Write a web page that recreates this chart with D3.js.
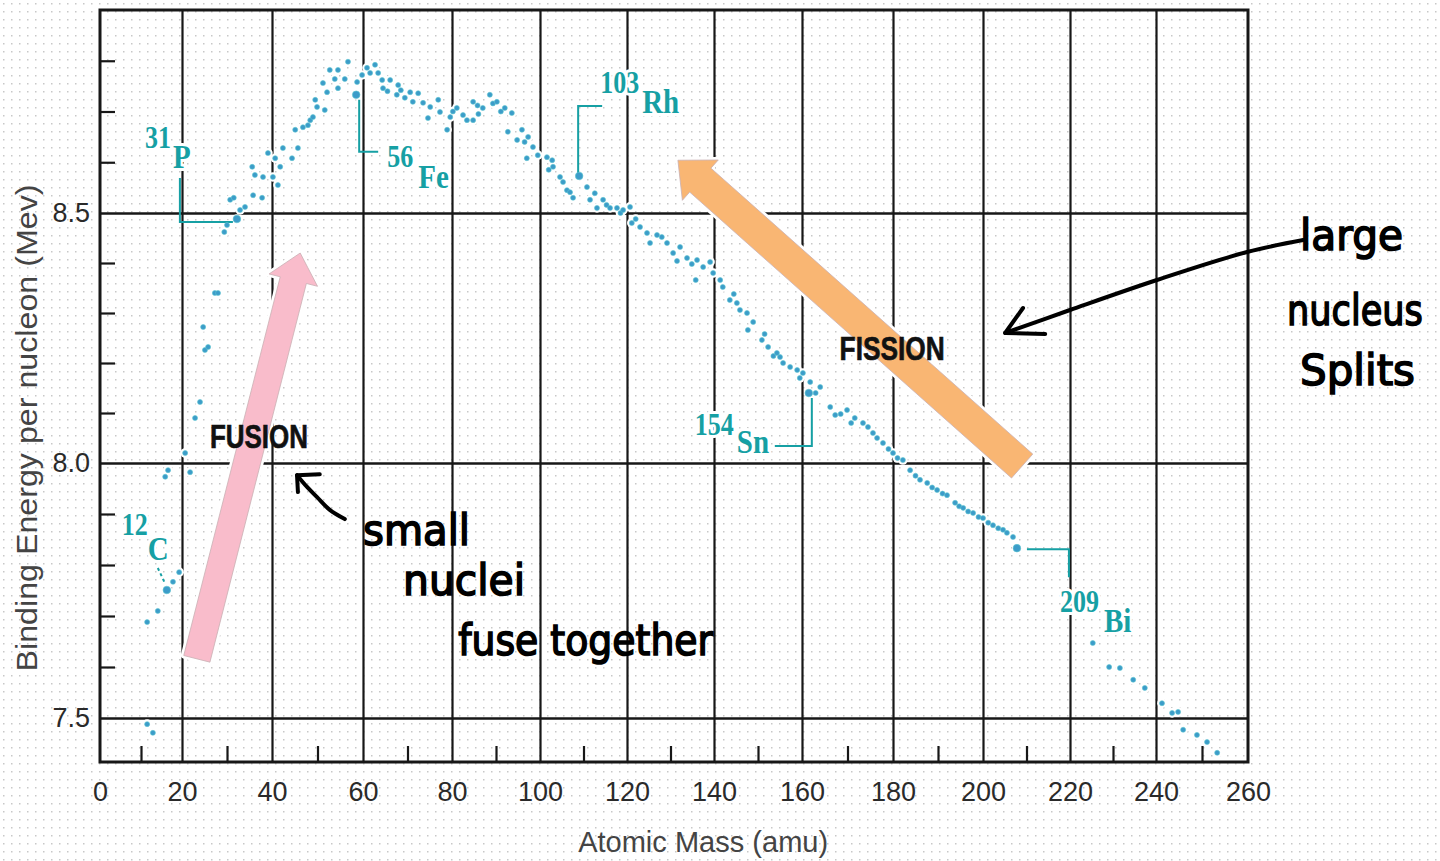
<!DOCTYPE html>
<html><head><meta charset="utf-8">
<script src="https://cdn.jsdelivr.net/npm/d3@7"></script>
<style>html,body{margin:0;padding:0;background:#fff;overflow:hidden}svg{display:block}</style>
</head><body>
<svg id="chart" width="1440" height="861"></svg>
<script>
// ---------------- DATA ----------------
const massNumber = [
 11.5,12.9,11.5,14.1,16.3,17.8,19.3,15.9,16.6,21.8,20.7,22.9,24.0,24.7,25.1,25.8,27.3,28.0,29.4,30.0,
 32.2,32.9,34.0,30.7,31.5,35.8,37.8,35.6,36.2,38.0,40.2,41.3,39.1,40.7,41.8,42.4,44.4,45.7,45.1,46.8,
 47.9,48.4,49.0,49.5,49.9,51.6,51.2,52.1,52.7,54.5,53.8,56.0,54.5,56.7,58.7,58.5,59.8,60.9,62.7,61.6,
 63.4,64.3,66.1,64.5,65.5,67.9,67.6,68.5,69.4,70.6,72.4,71.2,73.5,75.1,74.6,76.9,77.3,79.6,78.9,80.2,
 81.1,82.5,83.4,84.8,84.8,85.8,86.0,87.0,88.6,89.3,90.2,91.1,92.0,93.6,92.7,94.8,95.9,96.5,97.3,97.0,
 98.4,99.5,101.6,102.0,102.8,103.0,104.6,105.3,106.2,106.9,107.6,109.0,110.8,111.5,112.6,114.5,113.1,115.3,116.1,117.7,
 118.5,119.1,120.7,121.1,122.0,123.0,124.6,125.3,126.9,128.0,129.2,130.6,131.5,132.2,133.8,134.9,135.8,136.1,137.5,139.1,
 139.8,141.4,142.0,143.6,144.5,145.2,145.9,147.5,147.7,148.9,150.9,151.5,152.3,153.5,154.3,155.0,155.7,157.3,158.9,159.5,
 160.2,161.8,161.5,163.0,164.0,166.2,167.3,168.5,169.9,170.8,171.6,173.4,174.5,175.6,176.5,177.8,179.0,180.0,181.0,182.2,
 183.8,185.0,186.0,187.6,188.7,189.8,191.0,192.0,193.8,194.7,195.6,196.7,197.8,199.0,200.0,201.2,202.3,203.5,204.6,205.5,
 206.9,207.8,225.3,229.1,231.6,234.7,237.4,241.3,243.5,244.8,245.9,248.9,251.1,253.3
];
const bindingEnergy = [
 7.488,7.471,7.688,7.710,7.751,7.767,7.786,7.973,7.986,7.982,8.020,8.090,8.122,8.272,8.226,8.232,8.340,8.340,8.462,8.476,
 8.488,8.506,8.512,8.526,8.530,8.535,8.530,8.591,8.575,8.571,8.571,8.555,8.618,8.608,8.591,8.628,8.608,8.628,8.664,8.669,
 8.673,8.683,8.689,8.723,8.709,8.703,8.756,8.738,8.782,8.782,8.764,8.764,8.746,8.798,8.758,8.733,8.772,8.786,8.792,8.776,
 8.776,8.762,8.762,8.746,8.740,8.752,8.733,8.742,8.727,8.738,8.736,8.719,8.717,8.709,8.687,8.723,8.699,8.689,8.664,8.700,
 8.707,8.693,8.683,8.719,8.683,8.712,8.695,8.707,8.733,8.716,8.719,8.700,8.707,8.697,8.660,8.644,8.664,8.640,8.650,8.608,
 8.630,8.614,8.610,8.585,8.604,8.591,8.571,8.561,8.545,8.541,8.530,8.573,8.551,8.526,8.539,8.526,8.510,8.516,8.510,8.510,
 8.500,8.506,8.512,8.480,8.488,8.472,8.460,8.440,8.456,8.452,8.440,8.420,8.404,8.432,8.410,8.398,8.366,8.406,8.392,8.402,
 8.380,8.366,8.352,8.326,8.338,8.320,8.306,8.300,8.266,8.282,8.246,8.258,8.232,8.214,8.220,8.212,8.200,8.192,8.186,8.170,
 8.180,8.162,8.140,8.140,8.152,8.112,8.096,8.098,8.106,8.080,8.090,8.080,8.072,8.060,8.050,8.040,8.028,8.020,8.010,8.006,
 7.986,7.975,7.967,7.961,7.952,7.947,7.940,7.937,7.922,7.915,7.912,7.905,7.902,7.894,7.892,7.883,7.878,7.872,7.869,7.863,
 7.855,7.833,7.647,7.600,7.598,7.575,7.559,7.529,7.510,7.512,7.477,7.467,7.453,7.432
];
const isotopeMassLabel = ["12","31","56","103","154","209"];
const isotopeSymbol    = ["C","P","Fe","Rh","Sn","Bi"];
const isotopeA         = [16.3, 32.2, 58.5, 109.0, 161.5, 207.8];
const isotopeBE        = [7.751, 8.488, 8.733, 8.573, 8.140, 7.833];

const xTickValues  = [0,20,40,60,80,100,120,140,160,180,200,220,240,260];
const xMinorTicks  = [10,30,50,70,90,110,130,150,170,190,210,230,250];
const yTickValues  = [7.5, 8.0, 8.5];
const yMinorTicks  = [7.6,7.7,7.8,7.9,8.1,8.2,8.3,8.4,8.6,8.7,8.8];
const xTitle = "Atomic Mass (amu)";
const yTitle = "Binding Energy per nucleon (Mev)";
const fusionLabel = "FUSION", fissionLabel = "FISSION";
const noteWords = ["small","nuclei","fuse together","large","nucleus","Splits"];

// ---------------- LAYOUT ----------------
const W = 1440, H = 861;
const svg = d3.select("#chart");
const defs = svg.append("defs");
const pat = defs.append("pattern").attr("id","dots").attr("patternUnits","userSpaceOnUse")
  .attr("width",8).attr("height",8);
pat.append("rect").attr("x",3).attr("y",3).attr("width",1.5).attr("height",1.5).attr("fill","#c8c8c8");
svg.append("rect").attr("width",W).attr("height",H).attr("fill","#fff");
svg.append("rect").attr("width",W).attr("height",H).attr("fill","url(#dots)");

const xMin = 0, xMax = 260, yMin = 7.414, yMax = 8.9;
// piecewise scale matching the (slightly uneven) grid of the scanned original
const x = d3.scaleLinear().domain(xTickValues)
  .range([100,182,272,363,452,540,627,714,802,893,983,1070,1156,1248]);
const y = d3.scaleLinear().domain([yMin,7.5,8.0,8.5,yMax]).range([762,718,463,213,10]);

const pT = y(yMax), pB = y(yMin), pL = x(xMin), pR = x(xMax);
const ink = "#171717";
const sans = "'Liberation Sans',Arial,sans-serif";

// vertical grid
const gv = svg.append("g").attr("transform",`translate(0,${pT})`)
  .call(d3.axisBottom(x).tickValues(xTickValues.filter(v=>v>xMin&&v<xMax)).tickSize(pB-pT).tickFormat(""));
gv.select(".domain").remove();
gv.selectAll("line").attr("stroke",ink).attr("stroke-width",2.2);
// horizontal grid
const gh = svg.append("g").attr("transform",`translate(${pL},0)`)
  .call(d3.axisRight(y).tickValues(yTickValues).tickSize(pR-pL).tickFormat(""));
gh.select(".domain").remove();
gh.selectAll("line").attr("stroke",ink).attr("stroke-width",2.4);
// minor ticks
const my = svg.append("g").attr("transform",`translate(${pL},0)`)
  .call(d3.axisRight(y).tickValues(yMinorTicks).tickSize(15).tickFormat(""));
my.select(".domain").remove();
my.selectAll("line").attr("stroke",ink).attr("stroke-width",2.2);
const mx = svg.append("g").attr("transform",`translate(0,${pB})`)
  .call(d3.axisTop(x).tickValues(xMinorTicks).tickSize(16).tickFormat(""));
mx.select(".domain").remove();
mx.selectAll("line").attr("stroke",ink).attr("stroke-width",2.2);

// tick labels
const ly = svg.append("g").attr("transform",`translate(${pL},0)`)
  .call(d3.axisLeft(y).tickValues(yTickValues).tickSize(0).tickPadding(10).tickFormat(d3.format(".1f")));
ly.select(".domain").remove();
ly.selectAll("text").attr("font-family",sans).attr("font-size",27).attr("fill","#2a2a2a");
const lx = svg.append("g").attr("transform",`translate(0,${pB})`)
  .call(d3.axisBottom(x).tickValues(xTickValues).tickSize(0).tickPadding(20).tickFormat(d3.format("d")));
lx.select(".domain").remove();
lx.selectAll("text").attr("font-family",sans).attr("font-size",27).attr("fill","#2a2a2a");

// axis titles
svg.append("text").attr("x",x(137.5)).attr("y",852).attr("text-anchor","middle")
  .attr("font-family",sans).attr("font-size",29).attr("fill","#444")
  .attr("textLength",250).attr("lengthAdjust","spacingAndGlyphs").text(xTitle);
svg.append("text").attr("transform",`translate(37,${y(8.07)}) rotate(-90)`).attr("text-anchor","middle")
  .attr("font-family",sans).attr("font-size",29).attr("fill","#444")
  .attr("textLength",487).attr("lengthAdjust","spacingAndGlyphs").text(yTitle);

// frame
svg.append("rect").attr("x",pL).attr("y",pT).attr("width",pR-pL).attr("height",pB-pT)
  .attr("fill","none").attr("stroke",ink).attr("stroke-width",3);

// ---------------- BLOCK ARROWS ----------------
function blockArrow(p1,p2,sw,hw,hl){
  const dx=p2[0]-p1[0], dy=p2[1]-p1[1], L=Math.hypot(dx,dy);
  const ux=dx/L, uy=dy/L, nx=-uy, ny=ux;
  const bx=p2[0]-ux*hl, by=p2[1]-uy*hl;
  const pts=[[p1[0]+nx*sw/2,p1[1]+ny*sw/2],[bx+nx*sw/2,by+ny*sw/2],[bx+nx*hw/2,by+ny*hw/2],p2,
             [bx-nx*hw/2,by-ny*hw/2],[bx-nx*sw/2,by-ny*sw/2],[p1[0]-nx*sw/2,p1[1]-ny*sw/2]];
  return "M"+pts.map(p=>p.join(",")).join("L")+"Z";
}
const arrows = [
  {from:[23.3,7.616], to:[46.2,8.42], sw:27, hw:50, hl:28, fill:"#f9bccb"},
  {from:[209.0,7.994], to:[131.7,8.604], sw:32, hw:54, hl:30, fill:"#f9b673"}
];
arrows.forEach(a=>{
  const d = blockArrow([x(a.from[0]),y(a.from[1])],[x(a.to[0]),y(a.to[1])],a.sw,a.hw,a.hl);
  svg.append("path").attr("d",d).attr("fill","#fff").attr("stroke","#fff").attr("stroke-width",6).attr("stroke-linejoin","round");
  svg.append("path").attr("d",d).attr("fill",a.fill).attr("stroke","#c9b0b4").attr("stroke-width",0.8);
});
[[fusionLabel,37.1,8.03,98],[fissionLabel,179.8,8.206,105]].forEach(([t,a,be,len])=>{
  svg.append("text").attr("transform",`translate(${x(a)},${y(be)}) scale(1,1.1)`).attr("text-anchor","middle")
    .attr("font-family",sans).attr("font-weight","bold").attr("font-size",30)
    .attr("fill","#111").attr("stroke","#111").attr("stroke-width",0.6)
    .attr("textLength",len).attr("lengthAdjust","spacingAndGlyphs").text(t);
});

// ---------------- POINTS ----------------
const pts = massNumber.map((a,i)=>({a, be:bindingEnergy[i]}));
svg.append("g").selectAll("circle").data(pts).join("circle")
  .attr("cx",d=>x(d.a)).attr("cy",d=>y(d.be)).attr("r",4.8).attr("fill","#fff");

// isotope annotations
const teal = "#16a0a4";
const isoLayout = [
  {num:[-45,-55], sym:[-19,-30], leader:[[-9,-22],[-2,-7]], dashed:true},
  {num:[-92,-71], sym:[-64,-51], leader:[[-57,-41],[-57,3],[-4,3]]},
  {num:[31,72],  sym:[62,93],   leader:[[3,5],[3,57],[22,57]]},
  {num:[21,-83], sym:[63,-63],  leader:[[-1,-3],[-1,-70],[23,-70]]},
  {num:[-114,42],sym:[-72,60],  leader:[[3,5],[3,53],[-34,53]]},
  {num:[43,64],  sym:[87,84],   leader:[[10,1],[52,1],[52,29]]}
];
const gl = svg.append("g");
isotopeA.forEach((a,i)=>{
  const px=x(a), py=y(isotopeBE[i]), L=isoLayout[i];
  gl.append("path").attr("d","M"+L.leader.map(o=>[px+o[0],py+o[1]].join(",")).join("L"))
    .attr("fill","none").attr("stroke",teal).attr("stroke-width",2)
    .attr("stroke-dasharray",L.dashed?"3,3":null);
  const common = t=>t.attr("font-family","'Liberation Serif','Times New Roman',serif").attr("font-weight","bold")
    .attr("fill",teal).attr("stroke","#fff").attr("stroke-width",5).attr("paint-order","stroke").attr("stroke-linejoin","round");
  common(gl.append("text").attr("transform",`translate(${px+L.num[0]},${py+L.num[1]}) scale(1,1.18)`)
    .attr("font-size",26).text(isotopeMassLabel[i]));
  common(gl.append("text").attr("transform",`translate(${px+L.sym[0]},${py+L.sym[1]}) scale(1,1.18)`)
    .attr("font-size",29).text(isotopeSymbol[i]));
});

const isoSet = new Set(isotopeA.map((a,i)=>a+"_"+isotopeBE[i]));
svg.append("g").selectAll("circle").data(pts).join("circle")
  .attr("cx",d=>x(d.a)).attr("cy",d=>y(d.be))
  .attr("r",d=>isoSet.has(d.a+"_"+d.be)?3.8:2.5)
  .attr("fill","#3c9cc9").attr("stroke","#5cc6d0").attr("stroke-width",0.6);

// ---------------- HANDWRITTEN NOTES ----------------
const notes = [
  {w:0, a0:60.0, a1:84.1, be:7.839},
  {w:1, a0:69.0, a1:96.6, be:7.741},
  {w:2, a0:81.4, a1:139.8, be:7.624},
  {w:3, a0:271.3, a1:293.7, be:8.426},
  {w:4, a0:268.5, a1:298.0, be:8.276},
  {w:5, a0:271.3, a1:296.3, be:8.156}
];
notes.forEach(n=>{
  svg.append("text").attr("transform",`translate(${x(n.a0)},${y(n.be)}) scale(1,1.15)`)
    .attr("font-family","'DejaVu Sans',sans-serif").attr("font-size",37).attr("fill","#000")
    .attr("stroke","#000").attr("stroke-width",1.4)
    .attr("textLength",x(n.a1)-x(n.a0)).attr("lengthAdjust","spacingAndGlyphs").text(noteWords[n.w]);
});
const hand = d3.line().x(d=>x(d[0])).y(d=>y(d[1])).curve(d3.curveCatmullRom);
const handArrows = [
  {path:[[56.0,7.890],[52.7,7.908],[49.9,7.933],[47.7,7.953],[45.5,7.976]], head:[[50.5,7.978],[45.5,7.976],[45.7,7.943]]},
  {path:[[272.0,8.446],[259.8,8.422],[240.2,8.366],[220.0,8.306],[205.1,8.260]], head:[[209.2,8.310],[205.1,8.260],[214.3,8.258]]}
];
handArrows.forEach(h=>{
  svg.append("path").attr("d",hand(h.path)).attr("fill","none").attr("stroke","#000")
    .attr("stroke-width",4).attr("stroke-linecap","round");
  svg.append("path").attr("d",d3.line().x(d=>x(d[0])).y(d=>y(d[1]))(h.head)).attr("fill","none")
    .attr("stroke","#000").attr("stroke-width",4).attr("stroke-linecap","round").attr("stroke-linejoin","round");
});
</script>
</body></html>
